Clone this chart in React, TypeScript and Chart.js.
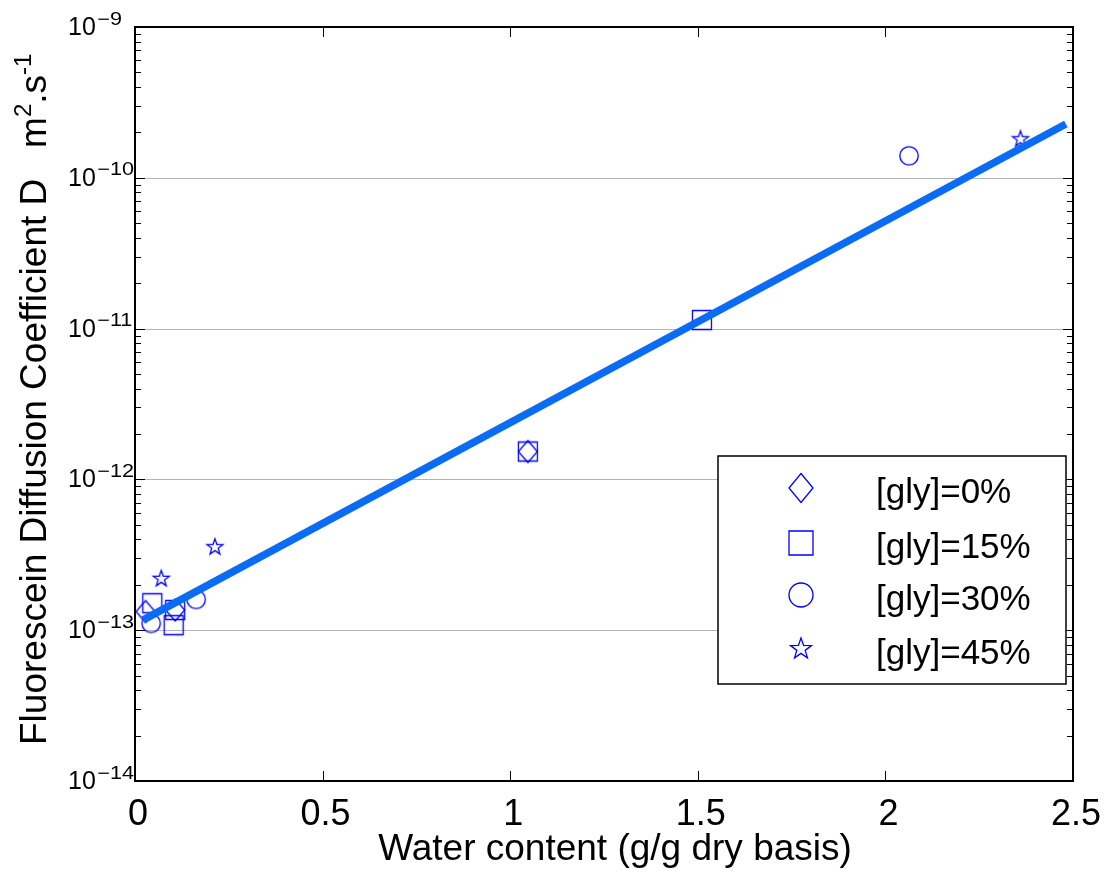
import React, { useEffect, useRef } from 'react';
import { Chart, registerables } from 'chart.js';

Chart.register(...registerables);

// ---------- data ----------
const xTickValues = [0, 0.5, 1, 1.5, 2, 2.5];
const xTickLabels = ['0', '0.5', '1', '1.5', '2', '2.5'];
const yDecades = [-14, -13, -12, -11, -10, -9];

const gly0X = [0.028, 0.107, 1.047];
const gly0Y = [1.33e-13, 1.36e-13, 1.53e-12];
const gly15X = [0.046, 0.107, 0.103, 1.047, 1.511];
const gly15Y = [1.51e-13, 1.36e-13, 1.08e-13, 1.53e-12, 1.14e-11];
const gly30X = [0.043, 0.163, 2.063];
const gly30Y = [1.11e-13, 1.6e-13, 1.4e-10];
const gly45X = [0.07, 0.213, 2.36];
const gly45Y = [2.19e-13, 3.55e-13, 1.8e-10];
const fitX = [0.022, 2.481];
const fitY = [1.17e-13, 2.275e-10];

const legendLabels = ['[gly]=0%', '[gly]=15%', '[gly]=30%', '[gly]=45%'];
const xTitle = 'Water content (g/g dry basis)';

const FONT = '"Liberation Sans", Arial, sans-serif';
const MARKER = '#0000ff';
const FIT = '#0a6cf5';

type Shape = 'diamond' | 'square' | 'circle' | 'star';

function pathShape(ctx: CanvasRenderingContext2D, shape: Shape, cx: number, cy: number, big: boolean) {
  ctx.beginPath();
  if (shape === 'diamond') {
    const w = big ? 12 : 9.5;
    const h = big ? 14.5 : 11;
    ctx.moveTo(cx, cy - h);
    ctx.lineTo(cx + w, cy);
    ctx.lineTo(cx, cy + h);
    ctx.lineTo(cx - w, cy);
    ctx.closePath();
  } else if (shape === 'square') {
    const s = big ? 12 : 9.5;
    ctx.rect(cx - s, cy - s, 2 * s, 2 * s);
  } else if (shape === 'circle') {
    const r = big ? 12 : 9.2;
    ctx.arc(cx, cy, r, 0, Math.PI * 2);
  } else {
    const R = big ? 11 : 8.4;
    const r = R * 0.4;
    for (let i = 0; i < 10; i++) {
      const ang = -Math.PI / 2 + (i * Math.PI) / 5;
      const rad = i % 2 === 0 ? R : r;
      const px = cx + rad * Math.cos(ang);
      const py = cy + rad * Math.sin(ang);
      if (i === 0) ctx.moveTo(px, py);
      else ctx.lineTo(px, py);
    }
    ctx.closePath();
  }
  ctx.strokeStyle = MARKER;
  ctx.lineWidth = 1.3;
  ctx.stroke();
}

function makeMarker(shape: Shape): HTMLCanvasElement {
  const c = document.createElement('canvas');
  c.width = 30;
  c.height = 30;
  const ctx = c.getContext('2d')!;
  pathShape(ctx, shape, 15, 15, false);
  return c;
}

const shapes: Shape[] = ['diamond', 'square', 'circle', 'star'];

const framePlugin = {
  id: 'frame',
  beforeDatasetsDraw(chart: any) {
    const { ctx, chartArea: a, scales } = chart;
    const y = scales.y;
    ctx.save();
    ctx.strokeStyle = '#b4b4b4';
    ctx.lineWidth = 1;
    for (const e of yDecades) {
      const py = Math.round(y.getPixelForValue(Math.pow(10, e))) + 0.5;
      ctx.beginPath();
      ctx.moveTo(a.left, py);
      ctx.lineTo(a.right, py);
      ctx.stroke();
    }
    ctx.restore();
  },
  afterDatasetsDraw(chart: any) {
    const { ctx, chartArea: a, scales } = chart;
    const x = scales.x;
    const y = scales.y;
    ctx.save();
    // box
    ctx.strokeStyle = '#000';
    ctx.lineWidth = 2;
    ctx.strokeRect(a.left, a.top, a.right - a.left, a.bottom - a.top);

    // x ticks (bottom + top)
    ctx.lineWidth = 1;
    for (const v of xTickValues) {
      const px = Math.round(x.getPixelForValue(v)) + 0.5;
      ctx.beginPath();
      ctx.moveTo(px, a.bottom);
      ctx.lineTo(px, a.bottom - 10);
      ctx.moveTo(px, a.top);
      ctx.lineTo(px, a.top + 10);
      ctx.stroke();
    }
    // y ticks major/minor, left + right
    for (let i = 0; i < yDecades.length; i++) {
      const e = yDecades[i];
      const py = Math.round(y.getPixelForValue(Math.pow(10, e))) + 0.5;
      ctx.beginPath();
      ctx.moveTo(a.left, py);
      ctx.lineTo(a.left + 10, py);
      ctx.moveTo(a.right, py);
      ctx.lineTo(a.right - 10, py);
      ctx.stroke();
      if (i < yDecades.length - 1) {
        for (let k = 2; k <= 9; k++) {
          const pm = Math.round(y.getPixelForValue(k * Math.pow(10, e))) + 0.5;
          ctx.beginPath();
          ctx.moveTo(a.left, pm);
          ctx.lineTo(a.left + 6, pm);
          ctx.moveTo(a.right, pm);
          ctx.lineTo(a.right - 6, pm);
          ctx.stroke();
        }
      }
    }

    // x tick labels
    ctx.fillStyle = '#000';
    ctx.font = `36px ${FONT}`;
    ctx.textAlign = 'center';
    ctx.textBaseline = 'alphabetic';
    xTickValues.forEach((v, i) => {
      ctx.fillText(xTickLabels[i], x.getPixelForValue(v) + 3, 825);
    });

    // y tick labels 10^e
    ctx.textAlign = 'left';
    for (const e of yDecades) {
      const py = y.getPixelForValue(Math.pow(10, e));
      ctx.font = `25px ${FONT}`;
      ctx.fillText('10', 68, py + 8);
      const w = ctx.measureText('10').width;
      ctx.save();
      ctx.translate(68 + w + 1.5, py - 2.5);
      ctx.scale(1.2, 1);
      ctx.font = `18px ${FONT}`;
      ctx.fillText('\u2212' + String(-e), 0, 0);
      ctx.restore();
    }

    // x title
    ctx.font = `37px ${FONT}`;
    ctx.textAlign = 'center';
    ctx.fillText(xTitle, 615, 860);

    // y title
    ctx.save();
    ctx.translate(46, 745);
    ctx.rotate(-Math.PI / 2);
    ctx.textAlign = 'left';
    const parts: [string, boolean][] = [
      ['Fluorescein Diffusion Coefficient D   m', false],
      ['2', true],
      ['.s', false],
      ['-1', true],
    ];
    let cx = 0;
    for (const [t, sup] of parts) {
      ctx.font = sup ? `24px ${FONT}` : `37px ${FONT}`;
      ctx.fillText(t, cx, sup ? -15 : 0);
      cx += ctx.measureText(t).width;
    }
    ctx.restore();

    // legend
    ctx.fillStyle = '#fff';
    ctx.fillRect(718, 456, 348, 228);
    ctx.strokeStyle = '#000';
    ctx.lineWidth = 1.5;
    ctx.strokeRect(718, 456, 348, 228);
    const my = [488, 543, 595, 649];
    ctx.font = `35px ${FONT}`;
    ctx.textAlign = 'left';
    shapes.forEach((s, i) => {
      pathShape(ctx, s, 801, my[i], true);
      ctx.fillStyle = '#000';
      ctx.fillText(legendLabels[i], 876, my[i] + 15);
    });
    ctx.restore();
  },
};

function pts(xs: number[], ys: number[]) {
  return xs.map((v, i) => ({ x: v, y: ys[i] }));
}

export default function App() {
  const ref = useRef<HTMLCanvasElement | null>(null);
  useEffect(() => {
    if (!ref.current) return;
    const markers = shapes.map(makeMarker);
    const series = [
      [gly0X, gly0Y],
      [gly15X, gly15Y],
      [gly30X, gly30Y],
      [gly45X, gly45Y],
    ];
    const chart = new Chart(ref.current, {
      type: 'scatter',
      data: {
        datasets: [
          {
            type: 'line',
            label: 'fit',
            data: pts(fitX, fitY),
            borderColor: FIT,
            backgroundColor: FIT,
            borderWidth: 7.5,
            pointRadius: 0,
            borderCapStyle: 'butt',
            fill: false,
            order: 0,
          } as any,
          ...series.map((s, i) => ({
            label: legendLabels[i],
            data: pts(s[0], s[1]),
            pointStyle: markers[i],
            pointRadius: 10,
            showLine: false,
            order: 1,
          })),
        ],
      },
      options: {
        animation: false,
        responsive: false,
        devicePixelRatio: 1,
        layout: { padding: { left: 135, right: 33, top: 27, bottom: 91 } },
        scales: {
          x: { type: 'linear', min: 0, max: 2.5, display: false },
          y: { type: 'logarithmic', min: 1e-14, max: 1e-9, display: false },
        },
        plugins: { legend: { display: false }, tooltip: { enabled: false } },
      } as any,
      plugins: [framePlugin],
    });
    return () => chart.destroy();
  }, []);
  return (
    <div style={{ position: 'absolute', left: 0, top: 0, width: 1106, height: 872, background: '#fff' }}>
      <canvas ref={ref} width={1106} height={872} style={{ display: 'block' }} />
    </div>
  );
}
